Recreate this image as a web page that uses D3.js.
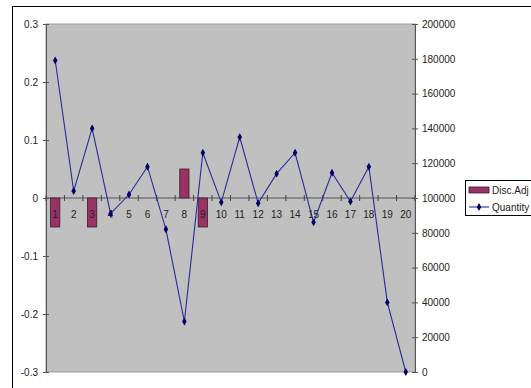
<!DOCTYPE html>
<html>
<head>
<meta charset="utf-8">
<script src="https://cdn.jsdelivr.net/npm/d3@7"></script>
<style>
  html, body { margin: 0; padding: 0; background: #fff; }
  svg { display: block; font-family: "Liberation Sans", Arial, sans-serif; }
</style>
</head>
<body>
<svg id="chart" width="531" height="388"></svg>
<script>
// Period numbers along the category axis
const categories = d3.range(1, 21).map(String);

// Discount adjustment per period (left axis); empty periods are null
const discAdj = [-0.05, null, -0.05, null, null, null, null, 0.05, -0.05, null,
                 null, null, null, null, null, null, null, null, null, null];

// Quantity per period (right axis)
const quantity = [179000, 104000, 140000, 91000, 102000, 118000, 82000, 29000, 126000, 97500,
                  135000, 97000, 114000, 126000, 86000, 114500, 98000, 118000, 40000, 0];

const leftTicks = [-0.3, -0.2, -0.1, 0, 0.1, 0.2, 0.3];
const rightTicks = d3.range(0, 200001, 20000);

const svg = d3.select("#chart");
const plot = { left: 46, top: 24, right: 415, bottom: 372 };

// Outer chart frame
svg.append("rect")
  .attr("x", 12.5).attr("y", 6.5)
  .attr("width", 560).attr("height", 420)
  .attr("fill", "#fff").attr("stroke", "#000").attr("stroke-width", 1);

const x = d3.scaleBand().domain(categories).range([plot.left, plot.right]).padding(0);
const yL = d3.scaleLinear().domain([-0.3, 0.3]).range([plot.bottom, plot.top]);
const yR = d3.scaleLinear().domain([0, 200000]).range([plot.bottom, plot.top]);

// Plot area
svg.append("rect")
  .attr("x", plot.left).attr("y", plot.top)
  .attr("width", plot.right - plot.left).attr("height", plot.bottom - plot.top)
  .attr("fill", "#c0c0c0").attr("stroke", "#9a9a9a").attr("stroke-width", 1);

// Left axis
const axL = d3.axisLeft(yL).tickValues(leftTicks).tickSizeInner(3).tickSizeOuter(0)
  .tickFormat(d => d3.format(".1~f")(d).replace("−", "-"));
const gL = svg.append("g").attr("transform", `translate(${plot.left},0)`).call(axL);
gL.select(".domain").attr("stroke", "#555");
gL.selectAll(".tick line").attr("x1", 3).attr("x2", -3).attr("stroke", "#555");
gL.selectAll(".tick text").attr("x", -8).attr("font-size", 10).attr("fill", "#222")
  .attr("font-family", "Liberation Sans, Arial, sans-serif");

// Right axis
const axR = d3.axisRight(yR).tickValues(rightTicks).tickSizeInner(3).tickSizeOuter(0)
  .tickFormat(d3.format("d"));
const gR = svg.append("g").attr("transform", `translate(${plot.right},0)`).call(axR);
gR.select(".domain").attr("stroke", "#555");
gR.selectAll(".tick line").attr("x1", -3).attr("x2", 3).attr("stroke", "#555");
gR.selectAll(".tick text").attr("x", 7).attr("font-size", 10).attr("fill", "#222")
  .attr("font-family", "Liberation Sans, Arial, sans-serif");

// Category axis on the zero line
const y0 = yL(0);
svg.append("line")
  .attr("x1", plot.left).attr("x2", plot.right)
  .attr("y1", y0).attr("y2", y0).attr("stroke", "#555");
const bounds = categories.map(c => x(c)).concat([plot.right]);
svg.append("g").selectAll("line").data(bounds).join("line")
  .attr("x1", d => d).attr("x2", d => d)
  .attr("y1", y0 - 3).attr("y2", y0 + 3).attr("stroke", "#444");

// Bars
const barW = x.bandwidth() * 0.5;
svg.append("g").selectAll("rect")
  .data(categories.map((c, i) => ({ c, v: discAdj[i] })).filter(d => d.v !== null))
  .join("rect")
  .attr("x", d => x(d.c) + (x.bandwidth() - barW) / 2)
  .attr("y", d => Math.min(yL(d.v), yL(0)))
  .attr("width", barW)
  .attr("height", d => Math.abs(yL(d.v) - yL(0)))
  .attr("fill", "#993366").attr("stroke", "#3a1a2a").attr("stroke-width", 0.8);

// Category labels
svg.append("g").selectAll("text").data(categories).join("text")
  .attr("x", d => x(d) + x.bandwidth() / 2)
  .attr("y", y0 + 20)
  .attr("text-anchor", "middle")
  .attr("font-size", 10).attr("fill", "#222")
  .text(d => d);

// Quantity line
const pts = categories.map((c, i) => [x(c) + x.bandwidth() / 2, yR(quantity[i])]);
svg.append("path")
  .attr("d", d3.line()(pts))
  .attr("fill", "none").attr("stroke", "#2a2a9a").attr("stroke-width", 1.1);
const diamond = d3.symbol().type(d3.symbolDiamond).size(18);
svg.append("g").selectAll("path").data(pts).join("path")
  .attr("transform", d => `translate(${d[0]},${d[1]})`)
  .attr("d", diamond).attr("fill", "#000066");

// Legend
const lg = svg.append("g");
lg.append("rect").attr("x", 465.5).attr("y", 180.5).attr("width", 80).attr("height", 35)
  .attr("fill", "#fff").attr("stroke", "#000");
lg.append("rect").attr("x", 469).attr("y", 187).attr("width", 20).attr("height", 6)
  .attr("fill", "#993366").attr("stroke", "#3a1a2a").attr("stroke-width", 0.8);
lg.append("text").attr("x", 492).attr("y", 194).attr("font-size", 10).attr("fill", "#222").text("Disc.Adj");
lg.append("line").attr("x1", 469).attr("x2", 489).attr("y1", 207).attr("y2", 207)
  .attr("stroke", "#2a2a9a").attr("stroke-width", 1.1);
lg.append("path").attr("transform", "translate(479,207)").attr("d", diamond).attr("fill", "#000066");
lg.append("text").attr("x", 492).attr("y", 211).attr("font-size", 10).attr("fill", "#222").text("Quantity");
</script>
</body>
</html>
